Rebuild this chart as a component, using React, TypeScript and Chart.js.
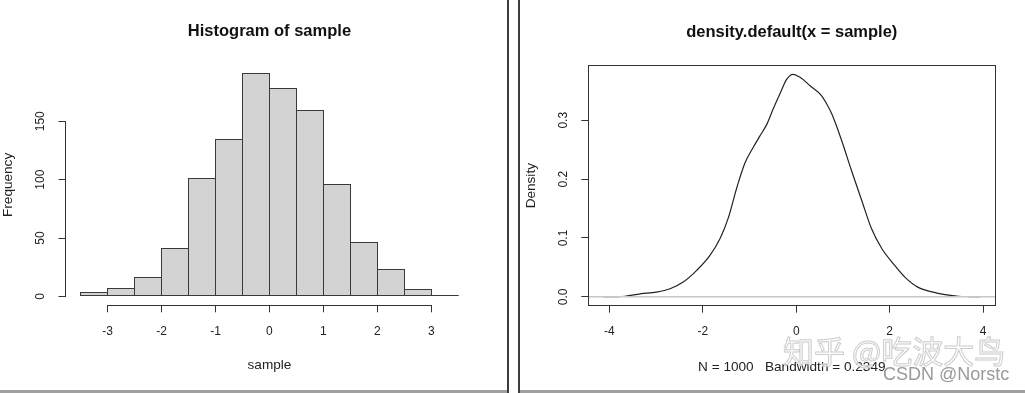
import { useEffect, useRef } from "react";
import { Chart, registerables } from "chart.js";

Chart.register(...registerables);

// ---------- data ----------
const histBreaks = [-3.5, -3, -2.5, -2, -1.5, -1, -0.5, 0, 0.5, 1, 1.5, 2, 2.5, 3, 3.5];
const histCounts = [3, 7, 16, 41, 101, 134, 191, 178, 159, 96, 46, 23, 6, 1];
const histXTicks = [-3, -2, -1, 0, 1, 2, 3];
const histYTicks = [0, 50, 100, 150];

const densityX = [
  -4.13, -3.9, -3.66, -3.34, -2.99, -2.7, -2.42, -2.13, -1.85, -1.63, -1.45, -1.27, -1.1,
  -0.92, -0.78, -0.63, -0.49, -0.31, -0.21, -0.07, 0.08, 0.15, 0.29,
  0.54, 0.65, 0.76, 0.97, 1.18, 1.4, 1.61, 1.83, 2.08, 2.33, 2.61, 2.93, 3.22, 3.47, 3.7, 3.94,
];
const densityY = [
  0.0002, 0.0004, 0.001, 0.005, 0.008, 0.0136, 0.025, 0.045, 0.07, 0.099, 0.135, 0.186, 0.227,
  0.254, 0.273, 0.293, 0.32, 0.352, 0.369, 0.378, 0.373, 0.369, 0.359,
  0.342, 0.328, 0.311, 0.266, 0.215, 0.164, 0.116, 0.082, 0.056, 0.033, 0.016, 0.008, 0.0034, 0.001,
  0.0004, 0.0001,
];
const densityXTicks = [-4, -2, 0, 2, 4];
const densityYTicks = [0, 0.1, 0.2, 0.3];
const densityYLabels = ["0.0", "0.1", "0.2", "0.3"];

const histTitle = "Histogram of sample";
const histXLabel = "sample";
const histYLabel = "Frequency";
const densTitle = "density.default(x = sample)";
const densSub = "N = 1000   Bandwidth = 0.2349";
const densYLabel = "Density";

const FONT = "'Liberation Sans', Arial, Helvetica, sans-serif";
Chart.defaults.font.family = FONT;

const fixedTicks = (vals: number[]) => (scale: any) => {
  scale.ticks = vals.map((v) => ({ value: v }));
};

const align = (p: number) => Math.round(p - 0.5) + 0.5;

// outlines of bars + partial R-style axis lines
const histDecor = {
  id: "histDecor",
  afterDatasetsDraw(chart: any) {
    const ctx = chart.ctx;
    const meta = chart.getDatasetMeta(0);
    ctx.save();
    ctx.strokeStyle = "#3a3a3a";
    ctx.lineWidth = 1;
    meta.data.forEach((el: any) => {
      const { x, y, base, width } = el.getProps(["x", "y", "base", "width"], true);
      const l = align(x - width / 2);
      const r = align(x + width / 2);
      const t = align(y);
      const b = align(base);
      ctx.strokeRect(l, t, r - l, b - t);
    });
    ctx.restore();
  },
  afterDraw(chart: any) {
    const ctx = chart.ctx;
    const xs = chart.scales.x;
    const ys = chart.scales.y;
    const area = chart.chartArea;
    ctx.save();
    ctx.strokeStyle = "#333";
    ctx.lineWidth = 1;
    ctx.beginPath();
    const yb = align(area.bottom);
    ctx.moveTo(align(xs.getPixelForValue(histXTicks[0])), yb);
    ctx.lineTo(align(xs.getPixelForValue(histXTicks[histXTicks.length - 1])), yb);
    const xl = align(area.left);
    ctx.moveTo(xl, align(ys.getPixelForValue(histYTicks[0])));
    ctx.lineTo(xl, align(ys.getPixelForValue(histYTicks[histYTicks.length - 1])));
    ctx.stroke();
    ctx.restore();
  },
};

const densDecor = {
  id: "densDecor",
  afterDatasetsDraw(chart: any) {
    const ctx = chart.ctx;
    const ys = chart.scales.y;
    const area = chart.chartArea;
    ctx.save();
    ctx.strokeStyle = "#c8c8c8";
    ctx.lineWidth = 1.5;
    ctx.beginPath();
    const y0 = ys.getPixelForValue(0);
    ctx.moveTo(area.left, y0);
    ctx.lineTo(area.right, y0);
    ctx.stroke();
    ctx.strokeStyle = "#333";
    ctx.lineWidth = 1;
    ctx.strokeRect(
      align(area.left),
      align(area.top),
      align(area.right) - align(area.left),
      align(area.bottom) - align(area.top)
    );
    ctx.restore();
  },
};

const gridOpts = { drawOnChartArea: false, drawTicks: true, tickLength: 7, color: "#333", lineWidth: 1 };
const tickFont = { size: 12, family: FONT };
const labFont = { size: 13.6, family: FONT };
const titleFont = { size: 16.5, weight: "bold" as const, family: FONT };

export default function App() {
  const leftRef = useRef<HTMLCanvasElement>(null);
  const rightRef = useRef<HTMLCanvasElement>(null);

  useEffect(() => {
    document.body.style.margin = "0";

    const histData = histCounts.map((c, i) => ({ x: (histBreaks[i] + histBreaks[i + 1]) / 2, y: c }));
    const hist = new Chart(leftRef.current as HTMLCanvasElement, {
      type: "bar",
      data: {
        datasets: [
          {
            data: histData as any,
            backgroundColor: "#d3d3d3",
            borderWidth: 0,
            barPercentage: 1,
            categoryPercentage: 1,
            inflateAmount: 0,
          } as any,
        ],
      },
      options: {
        responsive: false,
        animation: false,
        events: [],
        layout: { padding: { left: 0, right: 34.6, top: 0, bottom: 0 } },
        plugins: {
          legend: { display: false },
          tooltip: { enabled: false },
          title: {
            display: true,
            text: histTitle,
            fullSize: false,
            font: titleFont,
            color: "#111",
            padding: { top: 21.4, bottom: 23.3 },
          } as any,
        },
        scales: {
          x: {
            type: "linear",
            min: -3.78,
            max: 3.78,
            offset: false,
            afterBuildTicks: fixedTicks(histXTicks),
            afterFit: (s: any) => {
              s.height = 87.7;
            },
            grid: { ...gridOpts, offset: false },
            border: { display: false },
            ticks: { font: tickFont, color: "#222", padding: 12, maxRotation: 0, autoSkip: false, callback: (v: any) => String(v) },
            title: { display: true, text: histXLabel, font: labFont, color: "#222", padding: { top: 0, bottom: 19.3 } },
          } as any,
          y: {
            type: "linear",
            min: -7.64,
            max: 198.64,
            afterBuildTicks: fixedTicks(histYTicks),
            afterFit: (s: any) => {
              s.width = 65.5;
            },
            grid: gridOpts,
            border: { display: false },
            ticks: {
              font: tickFont,
              color: "#222",
              padding: 8,
              minRotation: 90,
              maxRotation: 90,
              crossAlign: "center",
              autoSkip: false,
              callback: (v: any) => String(v),
            },
            title: { display: true, text: histYLabel, font: labFont, color: "#222", padding: { top: 0.3, bottom: 0 } },
          } as any,
        },
      },
      plugins: [histDecor],
    });

    const densData = densityX.map((x, i) => ({ x, y: densityY[i] }));
    const dens = new Chart(rightRef.current as HTMLCanvasElement, {
      type: "line",
      data: {
        datasets: [
          {
            data: densData as any,
            borderColor: "#222",
            borderWidth: 1.2,
            pointRadius: 0,
            fill: false,
            cubicInterpolationMode: "monotone",
          } as any,
        ],
      },
      options: {
        responsive: false,
        animation: false,
        events: [],
        layout: { padding: { left: 0, right: 29.7, top: 0, bottom: 0 } },
        plugins: {
          legend: { display: false },
          tooltip: { enabled: false },
          title: {
            display: true,
            text: densTitle,
            fullSize: false,
            font: titleFont,
            color: "#111",
            padding: { top: 22.5, bottom: 23.4 },
          } as any,
        },
        scales: {
          x: {
            type: "linear",
            min: -4.45,
            max: 4.26,
            afterBuildTicks: fixedTicks(densityXTicks),
            afterFit: (s: any) => {
              s.height = 87.3;
            },
            grid: gridOpts,
            border: { display: false },
            ticks: { font: tickFont, color: "#222", padding: 11.8, maxRotation: 0, autoSkip: false, callback: (v: any) => String(v) },
            title: { display: true, text: densSub, font: labFont, color: "#222", padding: { top: 0, bottom: 17.8 } },
          } as any,
          y: {
            type: "linear",
            min: -0.0151,
            max: 0.3927,
            afterBuildTicks: fixedTicks(densityYTicks),
            afterFit: (s: any) => {
              s.width = 68.3;
            },
            grid: gridOpts,
            border: { display: false },
            ticks: {
              font: tickFont,
              color: "#222",
              padding: 9.6,
              minRotation: 90,
              maxRotation: 90,
              crossAlign: "center",
              autoSkip: false,
              callback: (_v: any, i: number) => densityYLabels[i],
            },
            title: { display: true, text: densYLabel, font: labFont, color: "#222", padding: { top: 3.5, bottom: 0 } },
          } as any,
        },
      },
      plugins: [densDecor],
    });

    return () => {
      hist.destroy();
      dens.destroy();
    };
  }, []);

  return (
    <div
      style={{
        position: "absolute",
        left: 0,
        top: 0,
        width: 1025,
        height: 393,
        background: "#fff",
        overflow: "hidden",
      }}
    >
      <canvas ref={leftRef} width={508} height={393} style={{ position: "absolute", left: 0, top: 0 }} />
      <canvas ref={rightRef} width={505} height={393} style={{ position: "absolute", left: 520, top: 0 }} />
      <div style={{ position: "absolute", left: 507, top: 0, width: 2, height: 393, background: "#3c3c3c" }} />
      <div style={{ position: "absolute", left: 518, top: 0, width: 2, height: 393, background: "#3c3c3c" }} />
      <div style={{ position: "absolute", left: 0, top: 390, width: 507, height: 3, background: "#a0a0a0" }} />
      <div style={{ position: "absolute", left: 520, top: 390, width: 505, height: 3, background: "#a0a0a0" }} />
      <div
        style={{
          position: "absolute",
          left: 783,
          top: 334,
          fontFamily: "'Noto Sans CJK SC', sans-serif",
          fontSize: 31,
          lineHeight: 1,
          whiteSpace: "nowrap",
          color: "rgba(255,255,255,0.6)",
          WebkitTextStroke: "1px #cccccc",
        }}
      >
        知乎 @吃波大鸟
      </div>
      <div
        style={{
          position: "absolute",
          left: 883,
          top: 365,
          fontFamily: FONT,
          fontSize: 18,
          lineHeight: 1,
          whiteSpace: "nowrap",
          color: "#9a9a9a",
        }}
      >
        CSDN @Norstc
      </div>
    </div>
  );
}
